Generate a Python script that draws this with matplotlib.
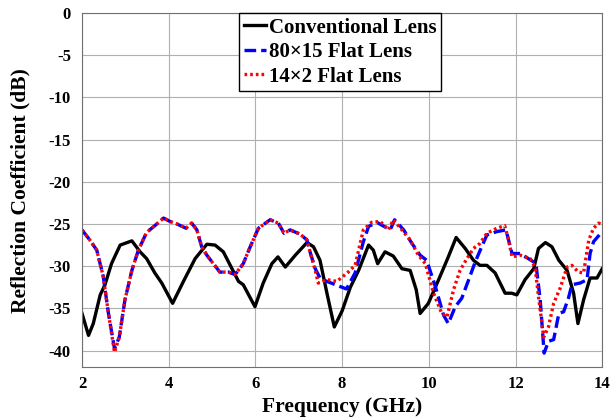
import matplotlib
matplotlib.use('Agg')
import matplotlib.pyplot as plt

plt.rcParams['font.family'] = ['Liberation Serif', 'DejaVu Serif']
plt.rcParams['font.weight'] = 'bold'
plt.rcParams['axes.unicode_minus'] = False

# Conventional lens
conv_f = [2.0, 2.15, 2.26, 2.42, 2.53, 2.68, 2.88, 3.15, 3.34, 3.49, 3.68, 3.84, 4.09,
          4.34, 4.61, 4.88, 5.07, 5.26, 5.45, 5.61, 5.72, 5.99, 6.18, 6.38, 6.52, 6.69,
          6.92, 7.19, 7.34, 7.49, 7.65, 7.82, 8.0, 8.19, 8.38, 8.61, 8.72, 8.82, 8.99,
          9.18, 9.38, 9.57, 9.71, 9.80, 9.99, 10.26, 10.45, 10.63, 10.84, 11.03, 11.18,
          11.34, 11.53, 11.76, 11.91, 12.03, 12.22, 12.42, 12.53, 12.69, 12.84, 13.0,
          13.19, 13.34, 13.44, 13.57, 13.72, 13.88, 14.0]
conv_db = [-35.6, -38.2, -36.8, -33.4, -32.2, -29.7, -27.5, -27.0, -28.3, -29.1, -30.8,
           -32.0, -34.4, -31.8, -29.1, -27.4, -27.5, -28.3, -30.2, -31.8, -32.2, -34.8,
           -32.0, -29.7, -28.9, -30.1, -28.7, -27.2, -27.7, -29.3, -33.2, -37.2, -35.3,
           -32.5, -30.5, -27.5, -28.1, -29.7, -28.3, -28.8, -30.3, -30.5, -32.8, -35.6,
           -34.4, -31.2, -28.9, -26.6, -27.9, -29.3, -29.9, -29.9, -30.8, -33.2, -33.2,
           -33.4, -31.6, -30.3, -27.9, -27.2, -27.7, -29.3, -30.5, -33.2, -36.8, -34.0,
           -31.4, -31.4, -30.3]

# 80x15 flat lens
flat80_f = [2.0, 2.18, 2.34, 2.49, 2.61, 2.75, 2.86, 2.99, 3.15, 3.30, 3.49, 3.68, 3.88,
            4.03, 4.19, 4.40, 4.53, 4.65, 4.76, 4.88, 5.03, 5.18, 5.38, 5.53, 5.72, 5.88,
            6.07, 6.34, 6.53, 6.66, 6.80, 7.03, 7.19, 7.26, 7.38, 7.50, 7.70, 7.95, 8.1,
            8.30, 8.49, 8.61, 8.80, 9.11, 9.21, 9.42, 9.61, 9.80, 9.95, 10.15, 10.34,
            10.45, 10.61, 10.76, 10.92, 11.07, 11.22, 11.34, 11.57, 11.78, 11.92, 12.11,
            12.42, 12.48, 12.57, 12.66, 12.76, 12.88, 13.0, 13.11, 13.22, 13.30, 13.49,
            13.65, 13.72, 13.80, 14.0]
flat80_db = [-25.7, -26.9, -28.1, -31.2, -35.6, -39.8, -38.4, -34.0, -30.5, -28.1, -26.0,
             -25.2, -24.3, -24.7, -25.0, -25.5, -24.9, -25.7, -27.7, -28.7, -29.7, -30.7,
             -30.7, -31.0, -29.7, -27.7, -25.5, -24.5, -24.9, -26.1, -25.7, -26.2, -26.9,
             -28.3, -30.3, -31.5, -31.9, -32.4, -32.7, -30.8, -27.1, -25.3, -24.8, -25.7,
             -24.5, -25.7, -27.3, -28.7, -29.3, -32.4, -35.8, -36.8, -34.8, -33.8, -31.6,
             -29.5, -27.7, -26.3, -25.9, -25.7, -28.5, -28.5, -29.5, -30.1, -34.0, -40.3,
             -38.9, -38.7, -35.6, -35.4, -33.8, -32.2, -32.0, -31.6, -28.5, -27.1, -25.9]

# 14x2 flat lens
flat14_f = [2.0, 2.18, 2.34, 2.49, 2.61, 2.75, 2.86, 2.99, 3.15, 3.30, 3.49, 3.68, 3.88,
            4.03, 4.19, 4.40, 4.53, 4.65, 4.76, 4.88, 5.03, 5.18, 5.38, 5.53, 5.72, 5.88,
            6.07, 6.34, 6.53, 6.66, 6.80, 7.03, 7.19, 7.26, 7.38, 7.45, 7.65, 7.88, 8.14,
            8.30, 8.49, 8.68, 8.88, 9.07, 9.18, 9.38, 9.57, 9.76, 9.92, 10.11, 10.30,
            10.42, 10.57, 10.72, 10.88, 11.03, 11.18, 11.34, 11.57, 11.75, 11.84, 11.92,
            12.11, 12.34, 12.45, 12.53, 12.65, 12.76, 12.88, 13.03, 13.19, 13.30, 13.45,
            13.57, 13.69, 13.80, 13.92, 14.0]
flat14_db = [-25.7, -26.9, -28.1, -31.2, -35.6, -40.2, -38.4, -34.0, -30.5, -28.1, -26.0,
             -25.2, -24.3, -24.7, -25.0, -25.5, -24.9, -25.7, -27.7, -28.7, -29.7, -30.7,
             -30.7, -31.0, -29.7, -27.7, -25.5, -24.5, -24.9, -26.1, -25.7, -26.2, -26.9,
             -28.3, -30.5, -32.0, -31.6, -31.8, -30.7, -29.9, -25.7, -24.8, -24.7, -25.7,
             -24.5, -25.7, -26.9, -28.7, -29.7, -33.2, -35.6, -36.0, -32.8, -30.5, -29.1,
             -27.9, -27.3, -26.1, -25.5, -25.2, -26.9, -28.9, -28.7, -29.1, -30.1, -33.6,
             -38.4, -37.2, -34.4, -32.6, -30.1, -29.9, -30.7, -30.8, -26.9, -25.5, -24.9,
             -25.1]

fig, ax = plt.subplots(figsize=(6.12, 4.19), dpi=100)
fig.subplots_adjust(left=0.134, right=0.984, top=0.969, bottom=0.123)

ax.plot(conv_f, conv_db, color='black', lw=2.4, label='Conventional Lens')
ax.plot(flat80_f, flat80_db, color='blue', lw=2.4, ls=(0, (3.5, 1.5)), label='80\u00d715 Flat Lens')
ax.plot(flat14_f, flat14_db, color='red', lw=2.4, ls=(0, (0.8, 0.9)), label='14\u00d72 Flat Lens')

ax.set_xlim(2, 14)
ax.set_ylim(-42, 0)
ax.set_xticks(range(2, 15, 2))
ax.set_yticks(range(-40, 1, 5))
ax.grid(True, color='#b0b0b0', lw=0.8)
ax.tick_params(axis='both', direction='in', labelsize=12, length=0)
ax.tick_params(axis='y', pad=8)
ax.tick_params(axis='x', pad=6)
for s in ax.spines.values():
    s.set_color('#707070')
for lab in ax.get_xticklabels() + ax.get_yticklabels():
    lab.set_fontweight('bold')

ax.set_xlabel('Frequency (GHz)', fontsize=15.5, fontweight='bold', labelpad=4)
ax.set_ylabel('Reflection Coefficient (dB)', fontsize=15.5, fontweight='bold', labelpad=13)

leg = ax.legend(loc='upper center', bbox_to_anchor=(0.496, 1.0), fontsize=15,
                handlelength=1.05, handletextpad=0.15, labelspacing=0.22,
                borderaxespad=0, borderpad=0.22, fancybox=False, framealpha=1,
                edgecolor='black')
leg.get_frame().set_linewidth(1.0)
for t in leg.get_texts():
    t.set_fontweight('bold')

fig.savefig('out.png', dpi=100)
